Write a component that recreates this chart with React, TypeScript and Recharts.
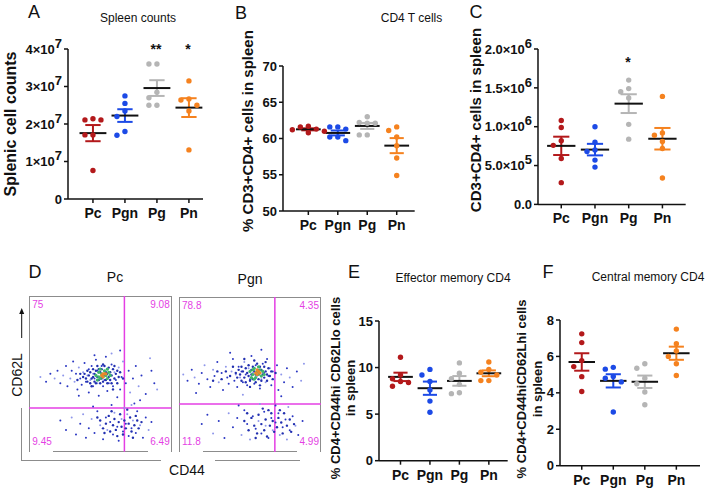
import React from 'react'
import { ScatterChart, Scatter, XAxis, YAxis, ReferenceLine } from 'recharts'

const groups = ['Pc', 'Pgn', 'Pg', 'Pn']
const groupColors = ['#b3191b', '#1c4ae6', '#b5b5b5', '#f5821f']

// A - spleen counts
const spleenPc = [2.14e7, 2.11e7, 2.11e7, 1.71e7, 1.71e7, 0.76e7]
const spleenPgn = [2.75e7, 2.55e7, 2.35e7, 2.2e7, 1.8e7, 1.7e7]
const spleenPg = [3.6e7, 3.6e7, 2.85e7, 2.7e7, 2.5e7, 2.5e7]
const spleenPn = [3.15e7, 2.67e7, 2.64e7, 2.5e7, 2.35e7, 1.31e7]
const spleenTicks = [0, 1e7, 2e7, 3e7, 4e7]

// B - % CD3+CD4+
const cd4PctPc = [61.7, 61.6, 61.3, 61.2, 61.0, 60.8]
const cd4PctPgn = [61.6, 61.6, 61.3, 60.2, 60.2, 59.7]
const cd4PctPg = [63.0, 62.2, 62.1, 62.1, 60.5, 60.5]
const cd4PctPn = [61.6, 61.1, 60.2, 59.0, 57.3, 54.9]
const cd4PctTicks = [50, 55, 60, 65, 70]

// C - CD3+CD4+ counts
const cd4CountPc = [1.08e6, 0.99e6, 0.82e6, 0.76e6, 0.59e6, 0.28e6]
const cd4CountPgn = [1.0e6, 0.8e6, 0.7e6, 0.68e6, 0.57e6, 0.48e6]
const cd4CountPg = [1.6e6, 1.49e6, 1.45e6, 1.37e6, 1.03e6, 0.84e6]
const cd4CountPn = [1.39e6, 0.92e6, 0.89e6, 0.81e6, 0.72e6, 0.34e6]
const cd4CountTicks = [0, 5e5, 1e6, 1.5e6, 2e6]

// E - effector memory
const emPc = [11.1, 9.2, 8.8, 8.5, 8.4, 8.0]
const emPgn = [9.8, 9.2, 8.5, 7.6, 6.4, 5.2]
const emPg = [10.5, 9.4, 8.8, 8.2, 7.3, 7.2]
const emPn = [10.6, 9.8, 9.5, 9.2, 8.6, 8.6]
const emTicks = [0, 5, 10, 15]

// F - central memory
const cmPc = [7.24, 6.76, 5.77, 5.44, 4.89, 4.07]
const cmPgn = [5.4, 5.3, 4.9, 4.8, 4.6, 2.95]
const cmPg = [5.6, 5.35, 4.8, 4.5, 4.05, 3.35]
const cmPn = [7.5, 6.7, 6.3, 6.0, 5.6, 4.95]
const cmTicks = [0, 2, 4, 6, 8]

// D - flow plots (CD44 vs CD62L, 0-100 scale)
const pcGate = { cd44: 67, cd62l: 28 }
const pgnGate = { cd44: 67.5, cd62l: 31 }
const pcQuads = ['75', '9.08', '9.45', '6.49']
const pgnQuads = ['78.8', '4.35', '11.8', '4.99']

const pcEvents = [
  [8, 48], [12, 45], [15, 50], [18, 47], [20, 52], [22, 44], [24, 49], [26, 55], [27, 42], [29, 47],
  [30, 52], [31, 58], [32, 45], [33, 50], [34, 40], [35, 54], [36, 47], [37, 43], [38, 51], [39, 57],
  [40, 45], [41, 49], [42, 53], [42, 38], [43, 46], [44, 55], [45, 42], [45, 50], [46, 47], [47, 59],
  [48, 44], [48, 52], [49, 36], [50, 48], [51, 55], [52, 42], [52, 50], [53, 46], [54, 61], [55, 53],
  [55, 39], [56, 44], [57, 49], [58, 56], [59, 42], [60, 51], [61, 46], [62, 35], [63, 54], [64, 40],
  [65, 48], [66, 58], [68, 44], [70, 52], [71, 38], [73, 47], [75, 55], [77, 42], [79, 49], [82, 37],
  [85, 60], [88, 44], [64, 65], [58, 63], [35, 36], [46, 62], [72, 30], [78, 33], [86, 52], [90, 40],
  [22, 20], [26, 14], [30, 22], [33, 11], [36, 18], [38, 24], [40, 9], [42, 15], [44, 21], [46, 12],
  [48, 26], [50, 17], [52, 8], [54, 22], [55, 14], [57, 19], [59, 11], [60, 25], [62, 16], [63, 7],
  [65, 21], [66, 13], [68, 18], [69, 24], [70, 10], [72, 15], [73, 20], [75, 12], [76, 26], [78, 17],
  [80, 9], [82, 22], [84, 14], [86, 19], [58, 30], [67, 28], [45, 29], [74, 31],
]
const pcDense = [
  [38, 48], [39, 50], [40, 47], [41, 52], [42, 49], [43, 44], [43, 51], [44, 47], [45, 53], [46, 45],
  [46, 50], [47, 52], [47, 44], [48, 48], [49, 46], [49, 53], [50, 44], [50, 51], [51, 47], [51, 53],
  [52, 45], [53, 49], [53, 55], [54, 46], [54, 51], [55, 44], [55, 50], [56, 48], [56, 54], [57, 46],
  [57, 51], [58, 44], [58, 49], [59, 53], [60, 47], [61, 50], [62, 44], [62, 52], [63, 48], [64, 51],
  [44, 42], [48, 55], [52, 56], [60, 55], [41, 45], [36, 50], [34, 46], [66, 47], [59, 40], [45, 48],
  [50, 20], [52, 15], [54, 18], [56, 23], [57, 13], [59, 17], [60, 21], [61, 14], [63, 19], [64, 24],
  [65, 16], [66, 11], [67, 20], [68, 15], [70, 18], [71, 22], [72, 13], [74, 17], [75, 23], [77, 15],
  [58, 26], [62, 10], [69, 27], [73, 9], [53, 12], [48, 22], [76, 20], [79, 19],
]
const pcCore = [[47, 49], [49, 51], [50, 47], [51, 50], [52, 48], [53, 52], [54, 49], [55, 47], [48, 46], [56, 51], [50, 53], [55, 53], [57, 49], [49, 48]]
const pcHot = [[51, 49], [52, 50], [53, 50], [52, 48], [54, 50]]

const pgnEvents = [
  [3, 50], [6, 46], [9, 53], [11, 48], [14, 44], [16, 51], [18, 56], [20, 47], [22, 42], [24, 53],
  [25, 49], [27, 58], [28, 45], [30, 51], [31, 40], [33, 55], [34, 48], [35, 44], [37, 52], [38, 60],
  [39, 46], [40, 50], [41, 42], [42, 55], [43, 48], [44, 52], [45, 45], [46, 58], [47, 50], [48, 43],
  [49, 54], [50, 47], [51, 62], [52, 51], [53, 44], [54, 56], [55, 49], [56, 53], [57, 41], [58, 47],
  [59, 57], [60, 51], [61, 45], [62, 60], [63, 49], [64, 54], [65, 43], [66, 52], [67, 47], [69, 56],
  [70, 40], [72, 50], [74, 45], [76, 54], [78, 48], [80, 42], [83, 52], [86, 46], [36, 64], [58, 66],
  [45, 37], [72, 36], [12, 38], [88, 57],
  [16, 18], [20, 24], [24, 12], [28, 20], [32, 9], [35, 25], [38, 16], [41, 22], [44, 11], [46, 27],
  [48, 18], [50, 8], [52, 23], [54, 15], [56, 20], [58, 12], [60, 26], [61, 17], [63, 9], [65, 22],
  [66, 14], [68, 19], [70, 25], [71, 11], [73, 16], [75, 21], [76, 8], [78, 14], [80, 23], [82, 17],
  [84, 11], [87, 20], [57, 31], [68, 30], [42, 30], [77, 29],
]
const pgnDense = [
  [40, 51], [41, 48], [42, 53], [43, 50], [44, 46], [44, 55], [45, 52], [46, 48], [47, 54], [47, 45],
  [48, 51], [49, 49], [49, 56], [50, 46], [51, 53], [51, 50], [52, 47], [52, 55], [53, 52], [54, 45],
  [54, 50], [55, 57], [55, 53], [56, 47], [57, 51], [57, 55], [58, 46], [58, 53], [59, 50], [60, 48],
  [60, 55], [61, 52], [62, 46], [62, 50], [63, 54], [64, 49], [65, 52], [66, 47], [38, 55], [36, 49],
  [33, 52], [30, 47], [68, 51], [46, 60], [53, 59], [61, 58], [50, 42], [57, 43], [27, 52], [24, 46],
  [46, 20], [49, 14], [51, 22], [53, 17], [55, 12], [56, 24], [58, 18], [60, 14], [61, 21], [62, 10],
  [64, 17], [65, 25], [66, 20], [67, 13], [69, 16], [70, 22], [72, 19], [73, 12], [74, 25], [76, 17],
  [78, 21], [79, 13], [59, 28], [63, 27], [71, 27], [54, 9], [81, 18], [48, 25],
]
const pgnCore = [[50, 52], [52, 50], [53, 54], [54, 48], [55, 52], [56, 50], [57, 53], [58, 49], [51, 48], [59, 52], [53, 47], [56, 55], [60, 50], [52, 53]]
const pgnHot = [[54, 51], [55, 50], [56, 52], [55, 53], [57, 51]]

const font = 'Liberation Sans, Arial, sans-serif'
const axisStroke = { stroke: '#111', strokeWidth: 1.5 }
const tickFont = { fill: '#111', fontSize: 13, fontWeight: 700, fontFamily: font }
const magenta = '#e43fe4'

function meanSem(vals: number[]) {
  const m = vals.reduce((a, b) => a + b, 0) / vals.length
  const v = vals.reduce((a, b) => a + (b - m) * (b - m), 0) / (vals.length - 1)
  return { m, s: Math.sqrt(v / vals.length) }
}

// spread dots sideways when they would overlap
function swarm(vals: number[], cx: number, pxX: number, pxY: number) {
  const step = 8 / pxX
  const placed: { x: number; y: number }[] = []
  const order = [0, -1, 1, -2, 2, -3, 3]
  vals.forEach((v) => {
    for (const k of order) {
      const x = cx + k * step
      const hit = placed.some((q) => Math.hypot((q.x - x) * pxX, (q.y - v) * pxY) < 6.5)
      if (!hit) {
        placed.push({ x, y: v })
        break
      }
    }
  })
  return placed
}

function sciTick(fmt: (v: number) => [string, string]) {
  return (props: any) => {
    const { x, y, payload } = props
    const [base, exp] = fmt(payload.value)
    return (
      <text x={x} y={y} textAnchor="end" dy="0.36em" fill="#111" fontWeight={700} fontFamily={font} fontSize={13}>
        {base}
        {exp ? <tspan dy={-6}>{exp}</tspan> : null}
      </text>
    )
  }
}

type PanelProps = {
  series: number[][]
  yDomain: [number, number]
  yTicks: number[]
  yTick?: any
  axisX: number
  xEnd: number
  yTop: number
  yBottom: number
  xDomain: [number, number]
}

function DotPanel(p: PanelProps) {
  const yAxisW = 80
  const padTop = 22
  const w = p.xEnd - p.axisX
  const h = p.yBottom - p.yTop
  const pxX = w / (p.xDomain[1] - p.xDomain[0])
  const pxY = h / (p.yDomain[1] - p.yDomain[0])
  const pts = p.series.map((vals, gi) => swarm(vals, gi + 1, pxX, pxY))
  const stats = p.series.map(meanSem)
  const cap = 0.24
  const half = 0.42
  return (
    <div style={{ position: 'absolute', left: p.axisX - yAxisW, top: p.yTop - padTop }}>
      <ScatterChart
        width={w + yAxisW + 6}
        height={h + padTop + 30}
        margin={{ top: padTop, right: 6, bottom: 0, left: 0 }}
      >
        <XAxis
          type="number"
          dataKey="x"
          domain={p.xDomain}
          ticks={[1, 2, 3, 4]}
          interval={0}
          allowDataOverflow
          tickFormatter={(v: number) => groups[v - 1]}
          height={30}
          axisLine={axisStroke}
          tickLine={axisStroke}
          tickSize={4}
          tickMargin={5}
          tick={{ ...tickFont, fontSize: 14 }}
        />
        <YAxis
          type="number"
          dataKey="y"
          domain={p.yDomain}
          ticks={p.yTicks}
          interval={0}
          allowDataOverflow
          width={yAxisW}
          axisLine={axisStroke}
          tickLine={axisStroke}
          tickSize={4}
          tickMargin={2}
          tick={p.yTick ?? tickFont}
        />
        {pts.map((d, gi) => (
          <Scatter
            key={groups[gi]}
            data={d}
            isAnimationActive={false}
            shape={(s: any) => <circle cx={s.cx} cy={s.cy} r={2.7} fill={groupColors[gi]} />}
          />
        ))}
        {stats.map(({ m, s }, gi) => {
          const c = gi + 1
          const col = groupColors[gi]
          return [
            <ReferenceLine key={`v${gi}`} segment={[{ x: c, y: m - s }, { x: c, y: m + s }]} stroke={col} strokeWidth={2} />,
            <ReferenceLine key={`t${gi}`} segment={[{ x: c - cap, y: m + s }, { x: c + cap, y: m + s }]} stroke={col} strokeWidth={2} />,
            <ReferenceLine key={`b${gi}`} segment={[{ x: c - cap, y: m - s }, { x: c + cap, y: m - s }]} stroke={col} strokeWidth={2} />,
            <ReferenceLine key={`m${gi}`} segment={[{ x: c - half, y: m }, { x: c + half, y: m }]} stroke="#111" strokeWidth={2} />,
          ]
        })}
      </ScatterChart>
    </div>
  )
}

const toXY = (arr: number[][]) => arr.map(([x, y]) => ({ x, y }))

function FlowPlot(props: {
  left: number
  top: number
  width: number
  height: number
  events: number[][]
  dense: number[][]
  core: number[][]
  hot: number[][]
  gate: { cd44: number; cd62l: number }
  quads: string[]
  bottomFrom: number
  bottomTo: number
}) {
  const { left, top, width, height, gate, quads } = props
  const dark = props.events.filter((_, i) => i % 3 !== 0)
  const light = props.events.filter((_, i) => i % 3 === 0)
  const q = { position: 'absolute' as const, color: magenta, fontSize: 10, fontFamily: font, lineHeight: 1 }
  return (
    <>
      <div
        style={{
          position: 'absolute', left, top, width, height,
          borderLeft: '1px solid #8c8c8c', borderTop: '1px solid #8c8c8c', borderRight: '1px solid #8c8c8c',
          boxSizing: 'border-box',
        }}
      />
      <div style={{ position: 'absolute', left: left + props.bottomFrom, top: top + height - 1, width: props.bottomTo - props.bottomFrom, height: 1, background: '#8c8c8c' }} />
      <div style={{ position: 'absolute', left, top }}>
        <ScatterChart width={width} height={height} margin={{ top: 0, right: 0, bottom: 0, left: 0 }}>
          <XAxis type="number" dataKey="x" domain={[0, 100]} hide />
          <YAxis type="number" dataKey="y" domain={[0, 100]} hide />
          <Scatter data={toXY(light)} isAnimationActive={false} shape={(s: any) => <circle cx={s.cx} cy={s.cy} r={1} fill="#8f97ea" />} />
          <Scatter data={toXY(dark)} isAnimationActive={false} shape={(s: any) => <circle cx={s.cx} cy={s.cy} r={1} fill="#2a36c2" />} />
          <Scatter data={toXY(props.dense)} isAnimationActive={false} shape={(s: any) => <circle cx={s.cx} cy={s.cy} r={1.2} fill="#2230b0" />} />
          <Scatter data={toXY(props.core)} isAnimationActive={false} shape={(s: any) => <circle cx={s.cx} cy={s.cy} r={1.6} fill="#3fb66a" />} />
          <Scatter data={toXY(props.hot)} isAnimationActive={false} shape={(s: any) => <circle cx={s.cx} cy={s.cy} r={1.6} fill="#e9892a" />} />
          <ReferenceLine x={gate.cd44} stroke={magenta} strokeWidth={1.5} />
          <ReferenceLine y={gate.cd62l} stroke={magenta} strokeWidth={1.5} />
        </ScatterChart>
      </div>
      <div style={{ ...q, left: left + 3, top: top + 4 }}>{quads[0]}</div>
      <div style={{ ...q, right: 709 - (left + width) + 2, top: top + 4 }}>{quads[1]}</div>
      <div style={{ ...q, left: left + 3, top: top + height - 15 }}>{quads[2]}</div>
      <div style={{ ...q, right: 709 - (left + width) + 2, top: top + height - 15 }}>{quads[3]}</div>
    </>
  )
}

function Txt(props: { x: number; y: number; size: number; bold?: boolean; rotate?: boolean; children: React.ReactNode; lh?: number }) {
  return (
    <div
      style={{
        position: 'absolute', left: props.x, top: props.y,
        transform: `translate(-50%, -50%)${props.rotate ? ' rotate(-90deg)' : ''}`,
        fontSize: props.size, fontWeight: props.bold ? 700 : 400, fontFamily: font,
        lineHeight: props.lh ?? 1, whiteSpace: 'nowrap', textAlign: 'center', color: '#111',
      }}
    >
      {props.children}
    </div>
  )
}

function Star(props: { x: number; y: number; text: string }) {
  return (
    <div style={{ position: 'absolute', left: props.x, top: props.y - 4, transform: 'translateX(-50%)', fontSize: 14, fontWeight: 700, fontFamily: font, lineHeight: 1, color: '#111' }}>
      {props.text}
    </div>
  )
}

const spleenFmt = (v: number): [string, string] => (v === 0 ? ['0', ''] : [`${v / 1e7}×10`, '7'])
const countFmt = (v: number): [string, string] =>
  v === 0 ? ['0.0', ''] : v < 1e6 ? [`${(v / 1e5).toFixed(1)}×10`, '5'] : [`${(v / 1e6).toFixed(1)}×10`, '6']

export default function App() {
  return (
    <div style={{ position: 'absolute', left: 0, top: 0, width: 709, height: 488, background: '#fff', overflow: 'hidden', fontFamily: font }}>
      {/* A */}
      <Txt x={34} y={12} size={18}>A</Txt>
      <Txt x={138} y={18} size={12}>Spleen counts</Txt>
      <Txt x={10.5} y={124} size={16} bold rotate>Splenic cell counts</Txt>
      <DotPanel
        series={[spleenPc, spleenPgn, spleenPg, spleenPn]}
        yDomain={[0, 4e7]}
        yTicks={spleenTicks}
        yTick={sciTick(spleenFmt)}
        axisX={68}
        xEnd={203}
        yTop={49}
        yBottom={199}
        xDomain={[0.22, 4.44]}
      />
      <Star x={156} y={46} text="**" />
      <Star x={188} y={46} text="*" />

      {/* B */}
      <Txt x={241} y={12.5} size={18}>B</Txt>
      <Txt x={411.5} y={17.5} size={12}>CD4 T cells</Txt>
      <Txt x={247} y={131} size={15} bold rotate>% CD3+CD4+ cells in spleen</Txt>
      <DotPanel
        series={[cd4PctPc, cd4PctPgn, cd4PctPg, cd4PctPn]}
        yDomain={[50, 70]}
        yTicks={cd4PctTicks}
        axisX={283.3}
        xEnd={415}
        yTop={65.7}
        yBottom={210.7}
        xDomain={[0.14, 4.61]}
      />

      {/* C */}
      <Txt x={476} y={11.7} size={18}>C</Txt>
      <Txt x={475} y={120} size={15} bold rotate>CD3+CD4+ cells in spleen</Txt>
      <DotPanel
        series={[cd4CountPc, cd4CountPgn, cd4CountPg, cd4CountPn]}
        yDomain={[0, 2e6]}
        yTicks={cd4CountTicks}
        yTick={sciTick(countFmt)}
        axisX={538.3}
        xEnd={686}
        yTop={49.3}
        yBottom={204.7}
        xDomain={[0.31, 4.69]}
      />
      <Star x={628} y={59} text="*" />

      {/* D */}
      <Txt x={35} y={271.5} size={18}>D</Txt>
      <Txt x={115} y={277} size={14}>Pc</Txt>
      <Txt x={250} y={279} size={14}>Pgn</Txt>
      <Txt x={16.7} y={375} size={14} rotate>CD62L</Txt>
      <Txt x={187} y={470} size={14}>CD44</Txt>
      <svg style={{ position: 'absolute', left: 17, top: 307 }} width={10} height={32}>
        <line x1={4.7} y1={6} x2={4.7} y2={31} stroke="#111" strokeWidth={1} />
        <polygon points="4.7,1 2.2,7 7.2,7" fill="#111" />
      </svg>
      <div style={{ position: 'absolute', left: 20.5, top: 408, width: 1, height: 52, background: '#8c8c8c' }} />
      <div style={{ position: 'absolute', left: 20.5, top: 460, width: 140, height: 1, background: '#8c8c8c' }} />
      <div style={{ position: 'absolute', left: 215, top: 460, width: 85, height: 1, background: '#8c8c8c' }} />
      <FlowPlot
        left={29.3} top={296} width={142.4} height={155.7}
        events={pcEvents} dense={pcDense} core={pcCore} hot={pcHot} gate={pcGate} quads={pcQuads}
        bottomFrom={24} bottomTo={119}
      />
      <FlowPlot
        left={179} top={296.7} width={142} height={155}
        events={pgnEvents} dense={pgnDense} core={pgnCore} hot={pgnHot} gate={pgnGate} quads={pgnQuads}
        bottomFrom={24} bottomTo={118}
      />

      {/* E */}
      <Txt x={354} y={271.5} size={18}>E</Txt>
      <Txt x={453} y={278} size={12}>Effector memory CD4</Txt>
      <Txt x={344} y={388} size={13} bold rotate lh={1.15}>
        % CD4+CD44hi CD62Llo cells
        <br />
        in spleen
      </Txt>
      <DotPanel
        series={[emPc, emPgn, emPg, emPn]}
        yDomain={[0, 15]}
        yTicks={emTicks}
        axisX={379.3}
        xEnd={508}
        yTop={321}
        yBottom={460.7}
        xDomain={[0.27, 4.64]}
      />

      {/* F */}
      <Txt x={548} y={272} size={18}>F</Txt>
      <Txt x={648} y={276.5} size={12}>Central memory CD4</Txt>
      <Txt x={530} y={389} size={13} bold rotate lh={1.2}>
        % CD4+CD44hiCD62Lhi cells
        <br />
        in spleen
      </Txt>
      <DotPanel
        series={[cmPc, cmPgn, cmPg, cmPn]}
        yDomain={[0, 8]}
        yTicks={cmTicks}
        axisX={560}
        xEnd={700}
        yTop={320}
        yBottom={465.7}
        xDomain={[0.31, 4.75]}
      />
    </div>
  )
}
